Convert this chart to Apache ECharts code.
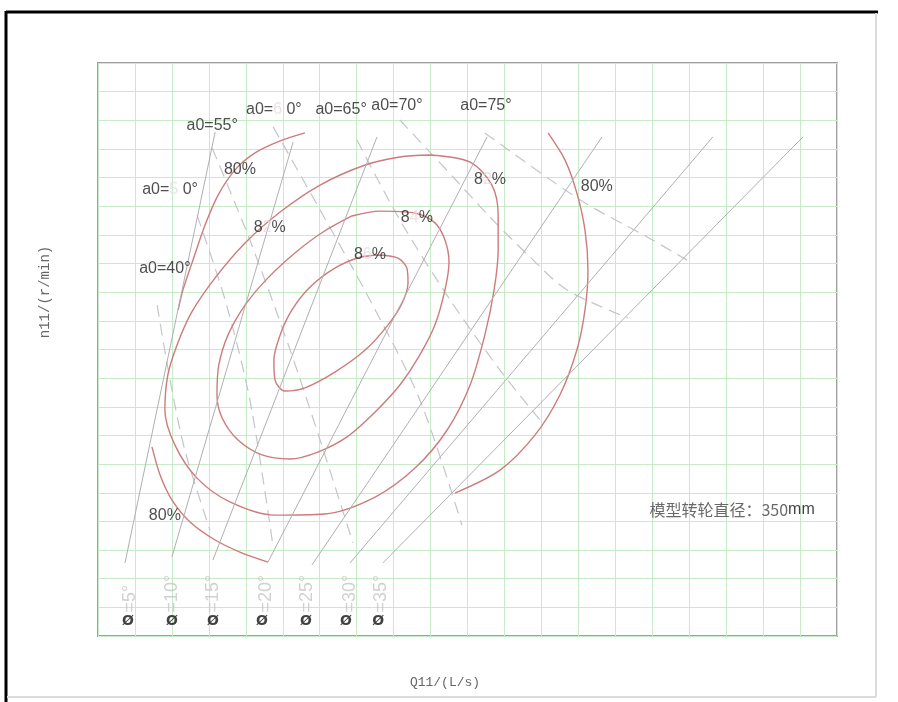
<!DOCTYPE html>
<html><head><meta charset="utf-8">
<script src="https://cdn.jsdelivr.net/npm/echarts@6/dist/echarts.min.js"></script>
<style>html,body{margin:0;padding:0;background:#fff}#c{width:898px;height:702px}</style>
</head><body><div id="c"></div>
<script>
// Efficiency contours (grid units: Q11 across, n11 up)
const eff86 = [[7.63,13.30],[8.12,13.19],[8.36,12.84],[8.39,12.32],[8.23,11.62],[7.85,10.86],[7.23,9.98],[6.41,9.21],[5.60,8.66],[5.06,8.55],[4.79,8.94],[4.76,9.63],[4.93,10.51],[5.25,11.38],[5.74,12.18],[6.41,12.84],[7.09,13.22],[7.63,13.30]];
const eff84 = [[6.87,14.66],[7.63,14.83],[8.58,14.76],[9.12,14.42],[9.39,13.82],[9.50,13.05],[9.39,12.08],[9.12,10.86],[8.71,9.81],[8.17,8.76],[7.50,7.82],[6.74,6.95],[5.95,6.42],[5.20,6.18],[4.44,6.32],[3.79,6.84],[3.36,7.61],[3.22,8.41],[3.27,9.46],[3.52,10.51],[3.98,11.55],[4.60,12.50],[5.33,13.37],[6.09,14.10],[6.87,14.66]];
const eff82 = [[8.99,16.79],[10.07,16.54],[10.66,15.74],[10.83,14.69],[10.83,13.47],[10.72,12.08],[10.47,10.51],[10.07,8.76],[9.45,7.19],[8.58,5.86],[7.50,4.85],[6.14,4.26],[4.79,4.22],[3.57,4.68],[2.68,5.51],[2.08,6.67],[1.81,7.89],[1.89,9.11],[2.14,10.16],[2.54,11.31],[3.17,12.50],[3.98,13.72],[4.93,14.80],[6.01,15.74],[7.23,16.44],[8.17,16.72],[8.99,16.79]];
const eff80a = [[5.60,17.56],[4.93,17.28],[4.25,16.86],[3.71,16.27],[3.25,15.39],[2.90,14.35],[2.57,13.12],[2.30,12.08],[2.17,11.38]];
const eff80b = [[1.46,6.60],[1.68,5.62],[2.00,4.75],[2.49,3.98],[3.17,3.35],[3.84,2.93],[4.60,2.58]];
const eff80c = [[12.18,17.56],[12.64,16.61],[12.96,15.46],[13.18,14.17],[13.26,12.77],[13.18,11.38],[12.96,9.98],[12.50,8.41],[11.83,7.02],[10.88,5.79],[9.66,4.99]];

// Blade angle lines (phi), bottom -> top
const phiNames = ['5°','10°','15°','20°','25°','30°','35°'];
const phiLines = [
  [[0.73,2.55],[3.17,17.59]],
  [[2.00,2.76],[5.28,17.24]],
  [[3.11,2.65],[7.55,17.42]],
  [[4.60,2.58],[10.53,17.42]],
  [[5.79,2.48],[13.64,17.42]],
  [[6.82,2.55],[16.64,17.42]],
  [[7.71,2.55],[19.08,17.42]]
];
const phiLabelPos = [[0.87,0.82],[2.00,0.82],[3.11,0.82],[4.55,0.82],[5.66,0.82],[6.82,0.82],[7.66,0.82]];
const phiSymbolPos = [[0.81,0.52],[2.00,0.52],[3.11,0.52],[4.44,0.52],[5.63,0.52],[6.71,0.52],[7.58,0.52]];

// Guide vane opening lines (a0), top -> bottom
const a0Names = ['40°','50°','55°','60°','65°','70°','75°'];
const a0Lines = [
  [[1.60,11.55],[1.95,8.94],[2.35,6.49],[3.03,3.70]],
  [[2.68,14.69],[3.44,11.73],[4.11,8.24],[4.74,3.11]],
  [[3.09,17.03],[4.11,13.82],[5.20,9.98],[6.01,6.84],[6.90,3.25]],
  [[4.74,17.77],[6.01,14.87],[7.36,11.73],[8.71,8.24],[9.85,3.87]],
  [[7.01,17.31],[8.17,14.52],[9.53,11.73],[10.88,9.28],[11.96,7.54]],
  [[8.17,18.01],[9.61,16.02],[10.61,14.62],[11.69,13.23],[12.69,12.08],[14.34,11.10]],
  [[10.47,17.56],[13.05,15.22],[14.86,13.93],[15.94,13.12]]
];
const a0LabelPos = [[1.81,12.84],[1.95,15.57],[3.09,17.80],[4.76,18.36],[6.58,18.36],[8.09,18.50],[10.50,18.50]];

const effLabels = [
  {pos:[3.84,16.27], pre:'80', faint:'', post:'%'},
  {pos:[1.81,4.19], pre:'80', faint:'', post:'%'},
  {pos:[13.50,15.67], pre:'80', faint:'', post:'%'},
  {pos:[4.65,14.24], pre:'8', faint:'2', post:'%'},
  {pos:[10.61,15.92], pre:'8', faint:'2', post:'%'},
  {pos:[8.63,14.62], pre:'8', faint:'4', post:'%'},
  {pos:[7.36,13.30], pre:'8', faint:'6', post:'%'}
];
const noteText = '模型转轮直径：350';
const notePos = [17.16,4.40];
const xName = 'Q11/(L/s)';
const yName = 'n11/(r/min)';

const chart = echarts.init(document.getElementById('c'));
const RED = '#cd7b7d';
const series = [];
function addLine(data, color, type, width, smooth) {
  series.push({type:'line', data:data, smooth:smooth, showSymbol:false, silent:true,
    lineStyle:{color:color, width:width, type:type}, z:3});
}
[eff86, eff84, eff82, eff80a, eff80b, eff80c].forEach(d => addLine(d, RED, 'solid', 1.4, 0.3));
phiLines.forEach(d => addLine(d, '#b0b0b0', 'solid', 1, false));
a0Lines.forEach(d => series.push({type:'line', data:d, smooth:0.3, showSymbol:false, silent:true,
  lineStyle:{color:'#c2c5ca', width:1.2, type:[12,7]}, z:2}));

const sansRich = {n:{fontSize:16, color:'#222', fontFamily:'Liberation Sans, Arial'}, f:{fontSize:16, color:'#e6dada', fontFamily:'Liberation Sans, Arial'}};
series.push({type:'scatter', symbolSize:0, silent:true, z:5,
  data: a0LabelPos.map((p,i)=>({value:p, name:a0Names[i]})),
  label:{show:true, position:'inside', rich:sansRich,
    formatter: p => {
      const n = p.name;
      if (n==='50°') return '{n|a0=}{f|5}{n| 0°}';
      if (n==='60°') return '{n|a0=}{f|6}{n| 0°}';
      return '{n|a0=' + n + '}';
    }}
});
series.push({type:'scatter', symbolSize:0, silent:true, z:5,
  data: effLabels.map(e=>({value:e.pos, pre:e.pre, faint:e.faint, post:e.post})),
  label:{show:true, position:'inside', rich:sansRich,
    formatter: p => {
      const d = p.data;
      return '{n|'+d.pre+'}' + (d.faint?'{f|'+d.faint+'}':'') + '{n|'+d.post+'}';
    }}
});
series.push({type:'scatter', symbolSize:0, silent:true, z:5,
  data: phiLabelPos.map((p,i)=>({value:p, name:phiNames[i]})),
  label:{show:true, position:'inside', rotate:90, align:'left', verticalAlign:'middle',
    formatter: p => '=' + p.name, color:'#c6c6c6', fontSize:18, fontFamily:'Liberation Sans, Arial'}
});
series.push({type:'scatter', symbolSize:0, silent:true, z:5,
  data: phiSymbolPos.map(p=>({value:p})),
  label:{show:true, position:'inside', formatter:'Ø', color:'#111', fontSize:14, fontWeight:'bold', fontFamily:'DejaVu Sans'}
});
series.push({type:'scatter', symbolSize:0, silent:true, z:5,
  data:[{value:notePos}],
  label:{show:true, position:'inside',
    formatter: '{c|'+noteText+'}{m|mm}',
    rich:{c:{fontSize:16, color:'#444', fontFamily:'Noto Sans CJK SC'}, m:{fontSize:16, color:'#111', fontFamily:'Liberation Sans, Arial'}}}
});

chart.setOption({
  animation:false,
  backgroundColor:'#fff',
  grid:{left:98, right:61, top:63, bottom:66, show:true, borderColor:'#a0a0a0', borderWidth:2},
  xAxis:{type:'value', min:0, max:20, interval:1,
    axisLine:{show:false}, axisTick:{show:false}, axisLabel:{show:false},
    splitLine:{show:true, lineStyle:{color:'#c6ebc6', width:1}}},
  yAxis:{type:'value', min:0, max:20, interval:1,
    axisLine:{show:false}, axisTick:{show:false}, axisLabel:{show:false},
    splitLine:{show:true, lineStyle:{color:'#c6ebc6', width:1}}},
  graphic:[
    {type:'line', shape:{x1:6, y1:12, x2:878, y2:12}, style:{stroke:'#000', lineWidth:3}, z:10},
    {type:'line', shape:{x1:6, y1:11, x2:6, y2:702}, style:{stroke:'#000', lineWidth:3}, z:10},
    {type:'line', shape:{x1:876, y1:13, x2:876, y2:697}, style:{stroke:'#dcdcdc', lineWidth:2}, z:10},
    {type:'line', shape:{x1:7, y1:697, x2:876, y2:697}, style:{stroke:'#dcdcdc', lineWidth:2}, z:10},
    {type:'text', x:445, y:683, style:{text:xName, fill:'#666', font:'13px "Liberation Mono", monospace', align:'center', verticalAlign:'middle'}, z:10},
    {type:'text', x:45, y:292, rotation:Math.PI/2, style:{text:yName, fill:'#666', font:'14px "Liberation Mono", monospace', align:'center', verticalAlign:'middle'}, z:10}
  ],
  series: series
});
</script></body></html>
